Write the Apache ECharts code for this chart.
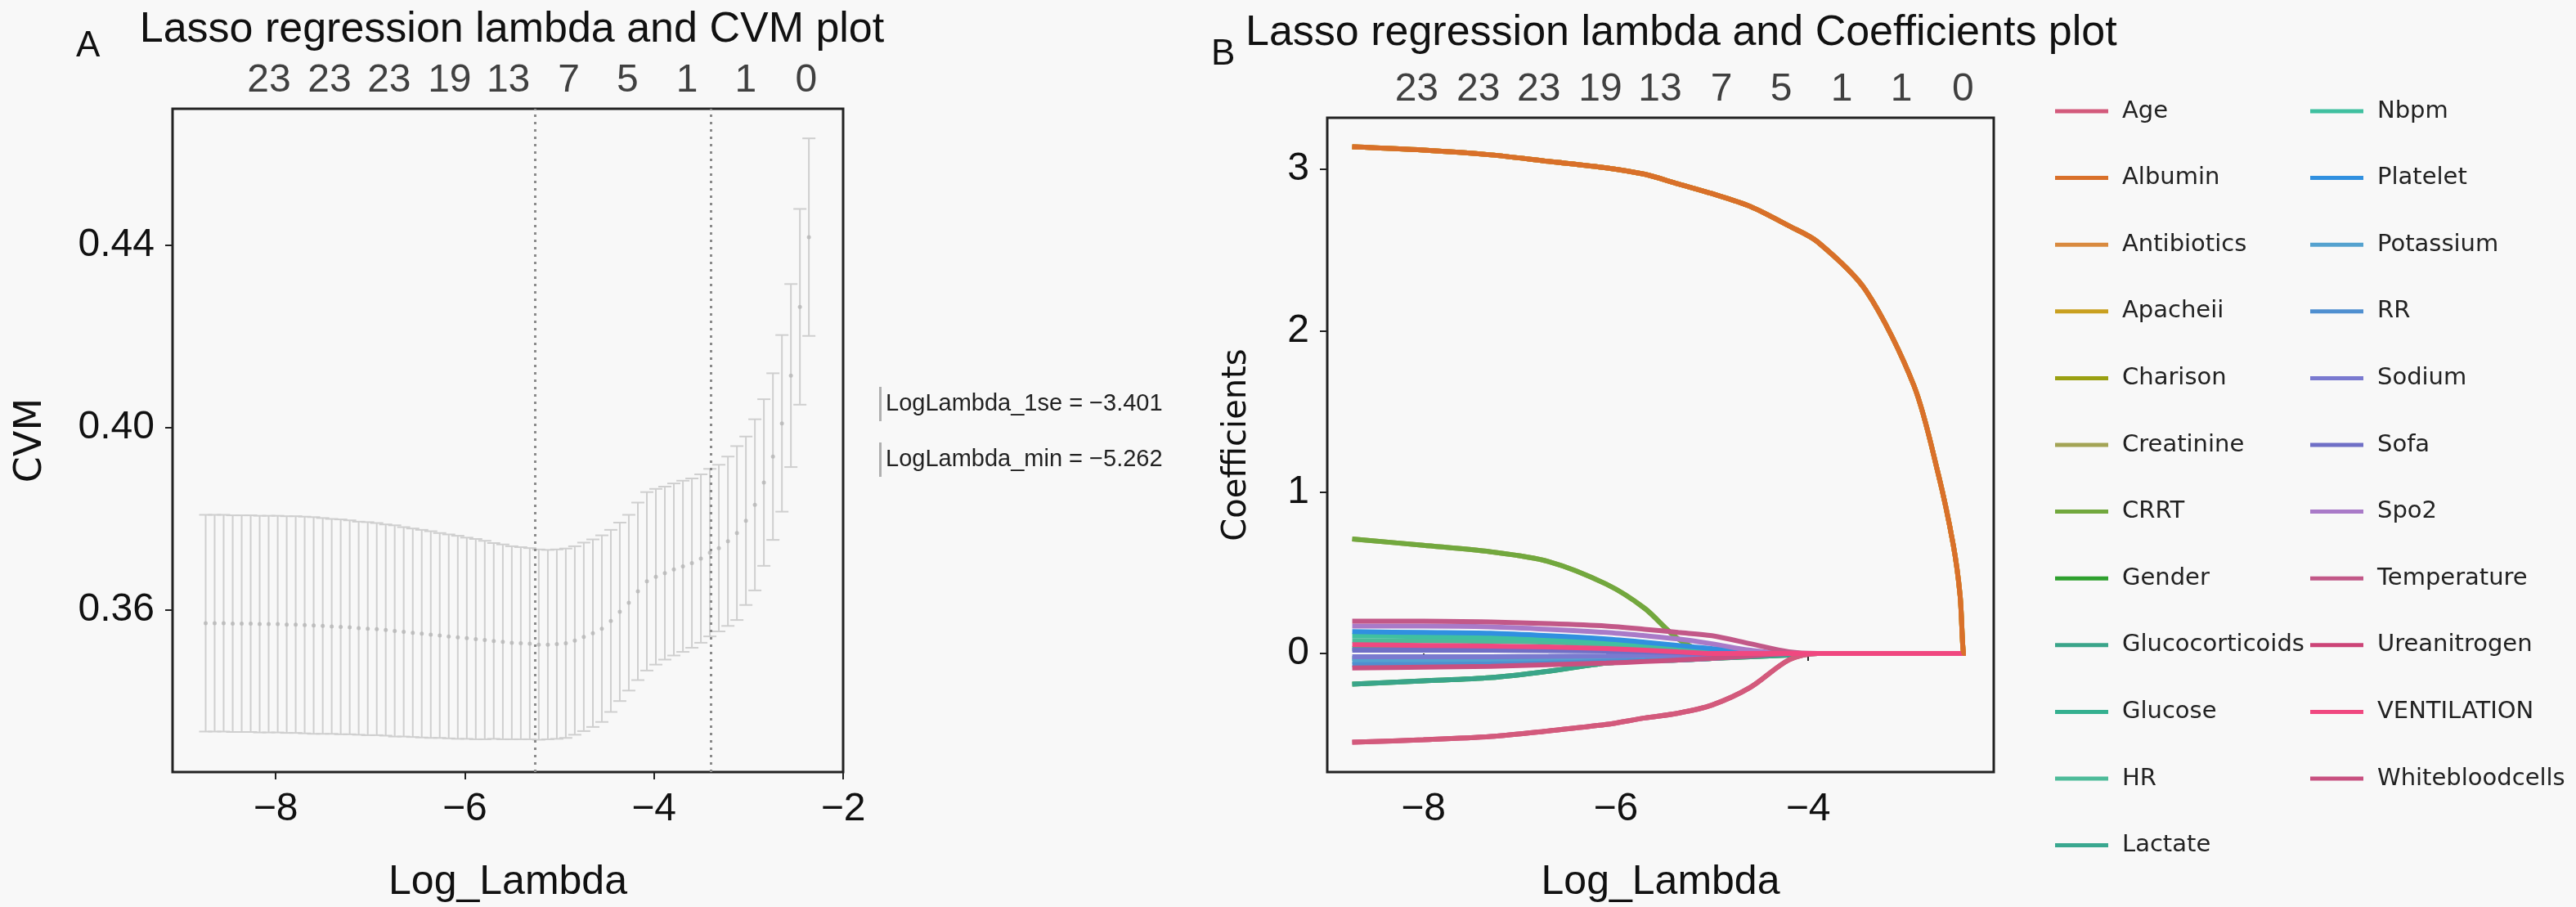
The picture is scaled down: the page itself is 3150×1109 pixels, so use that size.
<!DOCTYPE html>
<html><head><meta charset="utf-8">
<script src="https://cdn.jsdelivr.net/npm/echarts@6/dist/echarts.min.js"></script>
<style>html,body{margin:0;padding:0;background:#f8f8f8}#c{width:3150px;height:1109px}</style>
</head><body><div id="c"></div>
<script>
// ---------- Panel A data (cross-validation) ----------
const cvLogLambda = [-8.74,-8.645,-8.55,-8.454,-8.359,-8.264,-8.169,-8.074,-7.978,-7.883,-7.788,-7.693,-7.598,-7.502,-7.407,-7.312,-7.217,-7.122,-7.026,-6.931,-6.836,-6.741,-6.646,-6.55,-6.455,-6.36,-6.265,-6.17,-6.074,-5.979,-5.884,-5.789,-5.694,-5.598,-5.503,-5.408,-5.313,-5.218,-5.122,-5.027,-4.932,-4.837,-4.742,-4.646,-4.551,-4.456,-4.361,-4.266,-4.17,-4.075,-3.98,-3.885,-3.79,-3.694,-3.599,-3.504,-3.409,-3.314,-3.218,-3.123,-3.028,-2.933,-2.838,-2.742,-2.647,-2.552,-2.457,-2.362];
const cvMean = [0.3570,0.3570,0.3570,0.3569,0.3569,0.3569,0.3568,0.3568,0.3568,0.3567,0.3567,0.3566,0.3565,0.3564,0.3563,0.3562,0.3561,0.3559,0.3558,0.3557,0.3555,0.3553,0.3551,0.3549,0.3547,0.3545,0.3543,0.3541,0.3539,0.3537,0.3535,0.3533,0.3531,0.3529,0.3527,0.3526,0.3525,0.3523,0.3523,0.3524,0.3526,0.3532,0.3540,0.3548,0.3558,0.3575,0.3595,0.3615,0.3640,0.3662,0.3672,0.3680,0.3688,0.3695,0.3702,0.3712,0.3725,0.3735,0.3750,0.3768,0.3795,0.3830,0.3879,0.3936,0.4009,0.4114,0.4265,0.4418];
const cvSE = [0.0238,0.0238,0.0238,0.0238,0.0238,0.0238,0.0238,0.0238,0.0238,0.0238,0.0238,0.0238,0.0238,0.0237,0.0236,0.0236,0.0235,0.0234,0.0234,0.0233,0.0232,0.0232,0.0230,0.0229,0.0228,0.0227,0.0225,0.0224,0.0223,0.0221,0.0220,0.0218,0.0215,0.0214,0.0212,0.0211,0.0210,0.0209,0.0208,0.0208,0.0208,0.0207,0.0207,0.0206,0.0205,0.0200,0.0196,0.0193,0.0195,0.0196,0.0193,0.0190,0.0189,0.0188,0.0186,0.0185,0.0184,0.0183,0.0186,0.0191,0.0185,0.0188,0.0183,0.0183,0.0194,0.0201,0.0215,0.0217];
const lambda1se = -3.401, lambdaMin = -5.262;
// ---------- top axis: number of non-zero coefficients ----------
const countPos = [-8.07,-7.43,-6.80,-6.16,-5.54,-4.90,-4.28,-3.65,-3.03,-2.39];
const countLabels = ['23','23','23','19','13','7','5','1','1','0'];
// ---------- Panel B data (coefficient paths) ----------
const pathX = [-8.74,-8.0,-7.3,-6.7,-6.1,-5.7,-5.35,-5.0,-4.6,-4.2,-3.9,-3.4,-2.9,-2.65,-2.49,-2.42,-2.38,-2.36];
const pathBig   = [3.14,3.12,3.09,3.05,3.01,2.97,2.91,2.85,2.77,2.65,2.55,2.25,1.66,1.12,0.67,0.36,0,0];
const pathHigh  = [0.71,0.67,0.63,0.57,0.43,0.28,0.09,0,0,0,0,0,0,0,0,0,0,0];
const pathNeg55 = [-0.55,-0.535,-0.515,-0.48,-0.44,-0.40,-0.37,-0.32,-0.21,-0.04,0,0,0,0,0,0,0,0];
const pathNeg19 = [-0.19,-0.17,-0.15,-0.11,-0.06,-0.045,-0.04,-0.03,-0.02,-0.01,0,0,0,0,0,0,0,0];
const path20  = [0.20,0.20,0.195,0.185,0.17,0.15,0.13,0.11,0.06,0.01,0,0,0,0,0,0,0,0];
const path17  = [0.17,0.17,0.165,0.15,0.13,0.11,0.09,0.06,0.02,0,0,0,0,0,0,0,0,0];
const path135 = [0.135,0.13,0.125,0.11,0.09,0.07,0.05,0.03,0.01,0,0,0,0,0,0,0,0,0];
const path11  = [0.11,0.105,0.10,0.09,0.07,0.05,0.03,0.015,0,0,0,0,0,0,0,0,0,0];
const path08  = [0.08,0.078,0.075,0.07,0.055,0.04,0.03,0.015,0.005,0,0,0,0,0,0,0,0,0];
const path055 = [0.055,0.05,0.045,0.04,0.03,0.02,0.01,0,0,0,0,0,0,0,0,0,0,0];
const path03  = [0.03,0.03,0.028,0.025,0.02,0.015,0.01,0.005,0,0,0,0,0,0,0,0,0,0];
const path02  = [0.02,0.02,0.02,0.018,0.015,0.01,0.005,0,0,0,0,0,0,0,0,0,0,0];
const path00  = [0,0,0,0,0,0,0,0,0,0,0,0,0,0,0,0,0,0];
const pathN02 = [-0.02,-0.02,-0.02,-0.018,-0.015,-0.012,-0.01,-0.005,0,0,0,0,0,0,0,0,0,0];
const pathN03 = [-0.03,-0.03,-0.03,-0.028,-0.025,-0.02,-0.015,-0.01,0,0,0,0,0,0,0,0,0,0];
const pathN05 = [-0.05,-0.05,-0.048,-0.045,-0.04,-0.035,-0.03,-0.02,-0.01,0,0,0,0,0,0,0,0,0];
const pathN07 = [-0.07,-0.068,-0.065,-0.06,-0.05,-0.045,-0.04,-0.03,-0.015,0,0,0,0,0,0,0,0,0];
const pathN09 = [-0.09,-0.085,-0.08,-0.07,-0.06,-0.05,-0.04,-0.03,-0.015,0,0,0,0,0,0,0,0,0];
const varNames = ['Age','Albumin','Antibiotics','Apacheii','Charison','Creatinine','CRRT','Gender','Glucocorticoids','Glucose','HR','Lactate','Nbpm','Platelet','Potassium','RR','Sodium','Sofa','Spo2','Temperature','Ureanitrogen','VENTILATION','Whitebloodcells'];
const varColors = ['#d35a7c','#d9702a','#d98a3f','#c9a020','#9aa012','#a3a455','#72a83e','#2ea02e','#3aa58a','#35b090','#4dbb99','#3aa890','#40c0a0','#3090e0','#55a2cf','#4f8fd0','#7a7ad0','#6f6fc6','#a97ac8','#c25888','#cc4477','#f04880','#c85080'];
const varPaths = [pathNeg55,pathBig,pathBig,pathBig,pathBig,pathHigh,pathHigh,pathNeg19,pathNeg19,path03,path08,pathN03,path11,path135,pathN05,pathN07,pathN02,path02,path17,path20,pathNeg55,path055,pathN09];
const lineDrawOrder = [4,3,2,5,6,7,8,9,10,11,12,13,14,15,16,17,18,19,22,20,0,21,1];

const NARROW = "'Liberation Sans Narrow','Liberation Sans',sans-serif";
const DV = "'DejaVu Sans',sans-serif";
const minus = v => String(+v.toFixed(2)).replace('-', '\u2212');

const chart = echarts.init(document.getElementById('c'), null, {renderer:'canvas'});

const series = [];
series.push({
  type:'custom', xAxisIndex:0, yAxisIndex:0, clip:true,
  data: cvLogLambda.map((x,i)=>[x, cvMean[i], cvMean[i]-cvSE[i], cvMean[i]+cvSE[i]]),
  renderItem:(params, api)=>{
    const x = api.value(0);
    const lo = api.coord([x, api.value(2)]), hi = api.coord([x, api.value(3)]);
    const c = 8;
    const st = {stroke:'#cfcfcf', lineWidth:2};
    return {type:'group', children:[
      {type:'line', shape:{x1:lo[0],y1:lo[1],x2:hi[0],y2:hi[1]}, style:st},
      {type:'line', shape:{x1:lo[0]-c,y1:lo[1],x2:lo[0]+c,y2:lo[1]}, style:st},
      {type:'line', shape:{x1:hi[0]-c,y1:hi[1],x2:hi[0]+c,y2:hi[1]}, style:st}
    ]};
  }
});
series.push({
  type:'scatter', xAxisIndex:0, yAxisIndex:0, symbolSize:5,
  itemStyle:{color:'#b5b5b5'}, data: cvLogLambda.map((x,i)=>[x,cvMean[i]]),
  markLine:{silent:true, symbol:'none', label:{show:false},
    lineStyle:{type:[3,6], color:'#8a8a8a', width:3},
    data:[{xAxis:lambdaMin},{xAxis:lambda1se}]}
});
series.push({name:'LogLambda_1se = \u22123.401', type:'line', xAxisIndex:0, yAxisIndex:0, data:[], itemStyle:{color:'#b0b0b0'}, lineStyle:{type:'dotted', color:'#b0b0b0'}});
series.push({name:'LogLambda_min = \u22125.262', type:'line', xAxisIndex:0, yAxisIndex:0, data:[], itemStyle:{color:'#b0b0b0'}, lineStyle:{type:'dotted', color:'#b0b0b0'}});
[[1,1],[3,3]].forEach(([xa,ya])=>{
  series.push({type:'scatter', xAxisIndex:xa, yAxisIndex:ya, symbolSize:1, silent:true, clip:false,
    itemStyle:{color:'rgba(0,0,0,0)'},
    data: countPos.map((p,i)=>({value:[p,1], label:{formatter:countLabels[i]}})),
    label:{show:true, position:'top', distance:10, color:'#111', fontSize:48, fontFamily:NARROW}});
});
lineDrawOrder.forEach(k=>{
  series.push({name:varNames[k], type:'line', xAxisIndex:2, yAxisIndex:2, showSymbol:false,
    smooth:0.3, color:varColors[k],
    lineStyle:{width:6, color:varColors[k]},
    data: pathX.map((x,i)=>[x, varPaths[k][i]])});
});

const axisLabelStyle = {color:'#111', fontSize:48, fontFamily:NARROW, margin:22};
const tick = {show:true, length:9, lineStyle:{color:'#222', width:2}};

chart.setOption({
  backgroundColor:'#f8f8f8',
  animation:false,
  title:[
    {text:'Lasso regression lambda and CVM plot', left:621, top:6, textAlign:'center', textStyle:{fontSize:52, fontWeight:'normal', color:'#111', fontFamily:NARROW}},
    {text:'A', left:88, top:30, textStyle:{fontSize:44, fontWeight:'normal', color:'#111', fontFamily:NARROW}},
    {text:'Lasso regression lambda and Coefficients plot', left:1518, top:10, textStyle:{fontSize:52, fontWeight:'normal', color:'#111', fontFamily:NARROW}},
    {text:'B', left:1476, top:40, textStyle:{fontSize:44, fontWeight:'normal', color:'#111', fontFamily:NARROW}}
  ],
  legend:[
    {data:['LogLambda_1se = \u22123.401','LogLambda_min = \u22125.262'], orient:'vertical', left:1070, top:468,
     icon:'rect', itemWidth:3, itemHeight:42, itemGap:26, textStyle:{fontSize:29, color:'#222', fontFamily:NARROW}},
    {data:varNames.slice(0,12), orient:'vertical', left:2508, top:114, icon:'rect', itemWidth:65, itemHeight:5,
     itemGap:47.6, textStyle:{fontSize:29, color:'#222', fontFamily:DV, lineHeight:34, padding:[0,0,0,12]}},
    {data:varNames.slice(12), orient:'vertical', left:2820, top:114, icon:'rect', itemWidth:65, itemHeight:5,
     itemGap:47.6, textStyle:{fontSize:29, color:'#222', fontFamily:DV, lineHeight:34, padding:[0,0,0,12]}}
  ],
  grid:[
    {left:211, top:133, width:820, height:820, show:true, borderColor:'#222', borderWidth:3, backgroundColor:'transparent'},
    {left:1623, top:144, width:815, height:817, show:true, borderColor:'#222', borderWidth:3, backgroundColor:'transparent'}
  ],
  xAxis:[
    {type:'value', gridIndex:0, min:-9.09, max:-2.0, name:'Log_Lambda', nameLocation:'middle', nameGap:110,
     nameTextStyle:{fontSize:50, color:'#111', fontFamily:NARROW},
     axisLine:{show:false}, splitLine:{show:false},
     axisTick:Object.assign({customValues:[-8,-6,-4,-2]}, tick),
     axisLabel:Object.assign({customValues:[-8,-6,-4,-2], formatter:minus}, axisLabelStyle)},
    {type:'value', gridIndex:0, position:'top', min:-9.09, max:-2.0, show:false},
    {type:'value', gridIndex:1, min:-9.0, max:-2.07, name:'Log_Lambda', nameLocation:'middle', nameGap:110,
     nameTextStyle:{fontSize:50, color:'#111', fontFamily:NARROW},
     axisLine:{show:false}, splitLine:{show:false},
     axisTick:Object.assign({customValues:[-8,-6,-4]}, tick),
     axisLabel:Object.assign({customValues:[-8,-6,-4], formatter:minus}, axisLabelStyle)},
    {type:'value', gridIndex:1, position:'top', min:-9.0, max:-2.07, show:false}
  ],
  yAxis:[
    {type:'value', gridIndex:0, min:0.3243, max:0.47, name:'CVM', nameLocation:'middle', nameGap:150,
     nameTextStyle:{fontSize:46, color:'#111', fontFamily:DV},
     axisLine:{show:false}, splitLine:{show:false},
     axisTick:Object.assign({customValues:[0.36,0.40,0.44]}, tick),
     axisLabel:Object.assign({customValues:[0.36,0.40,0.44], formatter:v=>v.toFixed(2)}, axisLabelStyle)},
    {type:'value', gridIndex:0, min:0, max:1, show:false},
    {type:'value', gridIndex:1, min:-0.735, max:3.32, name:'Coefficients', nameLocation:'middle', nameGap:90,
     nameTextStyle:{fontSize:40, color:'#111', fontFamily:DV},
     axisLine:{show:false}, splitLine:{show:false},
     axisTick:Object.assign({customValues:[0,1,2,3]}, tick),
     axisLabel:Object.assign({customValues:[0,1,2,3], formatter:v=>String(v)}, axisLabelStyle)},
    {type:'value', gridIndex:1, min:0, max:1, show:false}
  ],
  series: series
});
</script></body></html>
